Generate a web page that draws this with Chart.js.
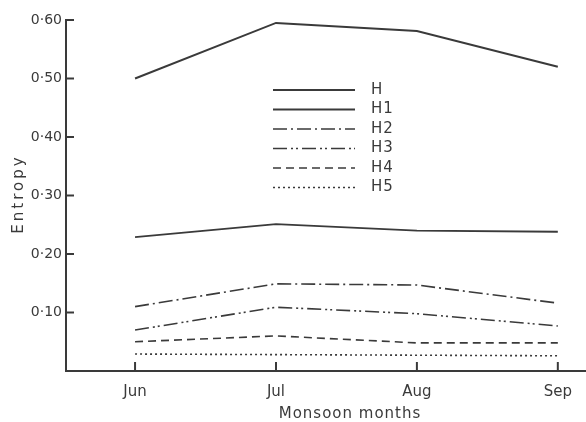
<!DOCTYPE html>
<html lang="en">
<head>
    <meta charset="UTF-8">
    <title>Entropy - Monsoon months</title>
    <style>
        * { margin: 0; padding: 0; box-sizing: border-box; }
        body { background: #ffffff; width: 586px; height: 422px; overflow: hidden; }
        .wrap { position: relative; width: 586px; height: 422px; }
    </style>
</head>
<body>
<div class="wrap">
    <canvas id="entropyChart" width="586" height="422"></canvas>
</div>

<script src="https://cdn.jsdelivr.net/npm/chart.js"></script>
<script>
    // Data
    const months = ['Jun', 'Jul', 'Aug', 'Sep'];
    const yTicks = [0.1, 0.2, 0.3, 0.4, 0.5, 0.6];
    const seriesNames = ['H', 'H1', 'H2', 'H3', 'H4', 'H5'];
    const H  = [0.500, 0.595, 0.581, 0.520];
    const H1 = [0.229, 0.251, 0.240, 0.238];
    const H2 = [0.110, 0.149, 0.147, 0.116];
    const H3 = [0.070, 0.109, 0.098, 0.077];
    const H4 = [0.050, 0.060, 0.048, 0.048];
    const H5 = [0.029, 0.028, 0.027, 0.026];

    const ink = '#3a3a3a';
    const font = '"DejaVu Sans"';
    const dashes = [[], [], [14, 4, 2, 4], [14, 4, 2, 3, 2, 4], [8, 5], [2, 3]];
    const widths = [2, 1.8, 1.6, 1.6, 1.6, 1.6];
    const values = [H, H1, H2, H3, H4, H5];

    const datasets = values.map((vals, i) => ({
        label: seriesNames[i],
        data: vals.map((v, j) => ({ x: j, y: v })),
        borderColor: ink,
        borderWidth: widths[i],
        borderDash: dashes[i],
        pointRadius: 0,
        tension: 0,
        fill: false
    }));

    // ticks drawn inward, axis titles and the legend inside the plot
    const paperPlugin = {
        id: 'paper',
        afterDraw(chart) {
            const ctx = chart.ctx;
            const xs = chart.scales.x, ys = chart.scales.y;
            ctx.save();
            ctx.strokeStyle = ink;
            ctx.lineWidth = 2;
            ctx.setLineDash([]);
            yTicks.forEach(v => {
                const py = ys.getPixelForValue(v);
                ctx.beginPath();
                ctx.moveTo(xs.left, py);
                ctx.lineTo(xs.left + 8, py);
                ctx.stroke();
            });
            months.forEach((m, i) => {
                const px = xs.getPixelForValue(i);
                ctx.beginPath();
                ctx.moveTo(px, ys.bottom);
                ctx.lineTo(px, ys.bottom - 9);
                ctx.stroke();
            });

            ctx.fillStyle = ink;
            ctx.textBaseline = 'middle';

            // axis titles
            ctx.font = '15px ' + font;
            ctx.textAlign = 'center';
            ctx.letterSpacing = '1px';
            ctx.fillText('Monsoon months', 350, 414);
            ctx.save();
            ctx.translate(19, 194);
            ctx.rotate(-Math.PI / 2);
            ctx.letterSpacing = '3px';
            ctx.fillText('Entropy', 0, 0);
            ctx.restore();

            // legend
            ctx.textAlign = 'left';
            ctx.letterSpacing = '1px';
            chart.data.datasets.forEach((ds, i) => {
                const ly = 90 + i * 19.5;
                ctx.lineWidth = ds.borderWidth;
                ctx.setLineDash(ds.borderDash);
                ctx.beginPath();
                ctx.moveTo(273, ly);
                ctx.lineTo(355, ly);
                ctx.stroke();
                ctx.fillText(ds.label, 371, ly);
            });
            ctx.restore();
        }
    };

    const ctx = document.getElementById('entropyChart').getContext('2d');
    new Chart(ctx, {
        type: 'line',
        data: { datasets: datasets },
        options: {
            responsive: false,
            animation: false,
            layout: { padding: { top: 20, right: 0, left: 0, bottom: 0 } },
            plugins: {
                legend: { display: false },
                tooltip: { enabled: false }
            },
            scales: {
                x: {
                    type: 'linear',
                    min: -0.49,
                    max: 3.2,
                    afterBuildTicks: s => { s.ticks = months.map((m, i) => ({ value: i })); },
                    afterFit: s => { s.height = 51; },
                    grid: { display: false, drawTicks: false },
                    border: { color: ink, width: 2 },
                    ticks: {
                        color: ink,
                        font: { family: 'DejaVu Sans', size: 15 },
                        padding: 12,
                        maxRotation: 0,
                        callback: v => months[v] || ''
                    }
                },
                y: {
                    min: 0,
                    max: 0.6,
                    afterBuildTicks: s => { s.ticks = yTicks.map(v => ({ value: v })); },
                    afterFit: s => { s.width = 66; },
                    grid: { display: false, drawTicks: false },
                    border: { color: ink, width: 2 },
                    ticks: {
                        color: ink,
                        font: { family: 'DejaVu Sans', size: 14 },
                        padding: 4,
                        callback: v => v.toFixed(2).replace('.', '·')
                    }
                }
            }
        },
        plugins: [paperPlugin]
    });
</script>
</body>
</html>
